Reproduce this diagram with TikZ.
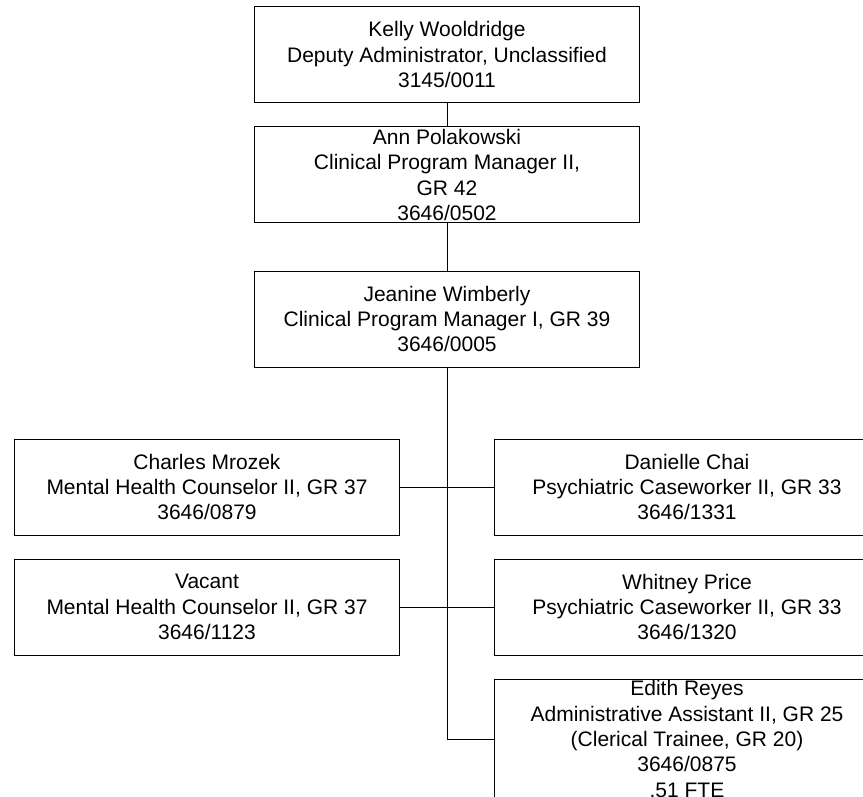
\documentclass[tikz,border=0pt]{standalone}
\usepackage{fontspec}
\setmainfont{Liberation Sans}
\usepackage{tikz}

\begin{document}
\begin{tikzpicture}[x=1pt,y=-1pt,
    post/.style={draw,line width=1pt,align=center,inner sep=0pt,
      minimum width=385pt,minimum height=96pt,
      font=\fontsize{21}{25.3}\selectfont},
    link/.style={line width=1pt}]
    \clip (0,0) rectangle (863,797);
    \node[post] (kelly) at (447,54.5)
      {Kelly Wooldridge\\Deputy Administrator, Unclassified\\3145/0011};
    \node[post] (ann) at (447,175)
      {Ann Polakowski\\Clinical Program Manager II,\\GR 42\\3646/0502};
    \node[post] (jeanine) at (447,319)
      {Jeanine Wimberly\\Clinical Program Manager I, GR 39\\3646/0005};
    \node[post] (charles) at (207,487)
      {Charles Mrozek\\Mental Health Counselor II, GR 37\\3646/0879};
    \node[post] (vacant) at (207,607)
      {Vacant\\Mental Health Counselor II, GR 37\\3646/1123};
    \node[post] (danielle) at (687,487)
      {Danielle Chai\\Psychiatric Caseworker II, GR 33\\3646/1331};
    \node[post] (whitney) at (687,607)
      {Whitney Price\\Psychiatric Caseworker II, GR 33\\3646/1320};
    \node[post,minimum height=120pt] (edith) at (687,739)
      {Edith Reyes\\Administrative Assistant II, GR 25\\(Clerical Trainee, GR 20)\\3646/0875\\.51 FTE};
    % connectors
    \draw[link] (kelly) -- (ann);
    \draw[link] (ann) -- (jeanine);
    \draw[link] (jeanine.south) -- (jeanine.south |- edith.west) -- (edith.west);
    \draw[link] (charles.east) -- (danielle.west);
    \draw[link] (vacant.east) -- (whitney.west);
\end{tikzpicture}
\end{document}
